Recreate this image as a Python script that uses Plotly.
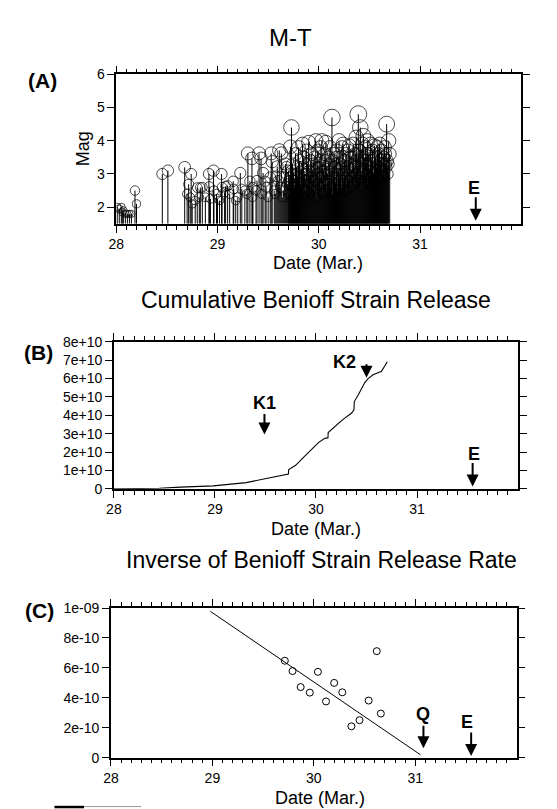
import plotly.graph_objects as go

W, H = 557, 809

# ---------------- Panel A : M-T data ----------------
event_day = [
    28.01, 28.03, 28.05, 28.06, 28.07, 28.09, 28.11, 28.13, 28.15, 28.185, 28.20,
    28.455, 28.51,
    28.676, 28.70, 28.715, 28.73, 28.74, 28.75, 28.78, 28.80, 28.82, 28.83, 28.85, 28.88,
    28.915, 28.92, 28.93, 28.96, 28.965, 28.99, 29.00, 29.02, 29.04, 29.045, 29.07, 29.08,
    29.10, 29.12, 29.155, 29.16, 29.18, 29.20, 29.225, 29.24, 29.27, 29.29, 29.30, 29.32,
    29.34, 29.345, 29.35, 29.38, 29.39, 29.41, 29.43, 29.44, 29.45, 29.47, 29.48, 29.50,
    29.52, 29.53, 29.54, 29.56, 29.57, 29.58, 29.59, 29.60, 29.61, 29.62, 29.63, 29.64,
    29.65, 29.66, 29.67, 29.68, 29.69,
    29.70, 29.71, 29.72, 29.73, 29.74, 29.75, 29.76, 29.77, 29.78, 29.79, 29.80, 29.81,
    29.82, 29.83, 29.84, 29.85, 29.86, 29.87, 29.88, 29.89, 29.90, 29.91, 29.92, 29.93,
    29.94, 29.95, 29.96, 29.97, 29.98, 29.99, 30.00, 30.01, 30.02, 30.03, 30.04, 30.05,
    30.06, 30.07, 30.08, 30.09, 30.10, 30.11, 30.12, 30.13, 30.14, 30.15, 30.16, 30.17,
    30.18, 30.19, 30.20, 30.21, 30.22, 30.23, 30.24, 30.25, 30.26, 30.27, 30.28, 30.29,
    30.30, 30.31, 30.32, 30.33, 30.34, 30.35, 30.36, 30.37, 30.38, 30.39, 30.40, 30.41,
    30.42, 30.43, 30.44, 30.45, 30.46, 30.47, 30.48, 30.49, 30.50, 30.51, 30.52, 30.53,
    30.54, 30.55, 30.56, 30.57, 30.58, 30.59, 30.60, 30.61, 30.62, 30.63, 30.64, 30.65,
    30.66, 30.67, 30.68, 30.69, 30.70,
    29.705, 29.715, 29.725, 29.735, 29.745, 29.755, 29.765, 29.775, 29.785, 29.795,
    29.805, 29.815, 29.825, 29.835, 29.845, 29.855, 29.865, 29.875, 29.885, 29.895,
    29.905, 29.915, 29.925, 29.935, 29.945, 29.955, 29.965, 29.975, 29.985, 29.995,
    30.005, 30.015, 30.025, 30.035, 30.045, 30.055, 30.065, 30.075, 30.085, 30.095,
    30.105, 30.115, 30.125, 30.135, 30.145, 30.155, 30.165, 30.175, 30.185, 30.195,
    30.205, 30.215, 30.225, 30.235, 30.245, 30.255, 30.265, 30.275, 30.285, 30.295,
    30.305, 30.315, 30.325, 30.335, 30.345, 30.355, 30.365, 30.375, 30.385, 30.395,
    30.405, 30.415, 30.425, 30.435, 30.445, 30.455, 30.465, 30.475, 30.485, 30.495,
    30.505, 30.515, 30.525, 30.535, 30.545, 30.555, 30.565, 30.575, 30.585, 30.595,
    30.605, 30.615, 30.625, 30.635, 30.645, 30.655, 30.665, 30.675, 30.685,
]
event_mag = [
    2.0, 1.95, 2.0, 1.85, 1.9, 1.8, 1.8, 1.8, 1.8, 2.5, 2.1,
    3.0, 3.1,
    3.2, 2.4, 2.69, 2.3, 3.0, 2.1, 2.2, 2.59, 2.3, 2.59, 2.6, 2.3,
    3.0, 2.62, 2.25, 3.1, 2.5, 2.4, 2.25, 2.2, 3.0, 2.6, 2.45, 2.63,
    2.65, 2.4, 2.78, 2.55, 2.2, 2.3, 3.03, 2.55, 2.5, 2.4, 3.62, 2.78,
    3.47, 2.3, 2.6, 2.5, 2.8, 3.62, 3.47, 2.4, 3.03, 2.78, 2.6, 2.3,
    2.9, 3.62, 3.37, 2.5, 2.4, 2.93, 3.22, 2.8, 3.71, 2.6, 3.62, 2.3,
    2.5, 2.9, 3.3, 3.2, 2.7,
    3.1, 2.8, 3.82, 4.4, 3.3, 3.0, 2.6, 3.6, 3.2, 2.9, 3.8, 3.4,
    2.7, 3.1, 3.9, 3.5, 3.0, 2.5, 3.7, 3.3, 3.95, 2.9, 3.4, 3.6,
    3.1, 2.8, 3.5, 4.0, 3.2, 3.7, 2.9, 3.4, 3.8, 4.0, 3.3, 3.0,
    3.6, 3.95, 3.2, 2.7, 3.5, 3.8, 3.1, 4.7, 3.4, 3.6, 2.9, 3.3,
    3.7, 3.0, 4.0, 3.5, 3.2, 3.8, 3.9, 2.8, 3.4, 3.6, 3.1, 3.7,
    3.85, 3.3, 2.9, 3.5, 3.9, 3.2, 3.6, 4.1, 3.4, 4.8, 3.7, 4.4,
    3.0, 3.9, 4.15, 3.5, 3.8, 3.3, 4.0, 3.6, 3.1, 3.9, 3.4, 3.7,
    3.0, 3.85, 3.5, 3.2, 3.8, 3.6, 3.9, 3.3, 3.7, 2.95, 3.5, 3.8,
    3.3, 4.5, 3.0, 4.0, 3.6,
    2.4, 2.9, 2.2, 3.1, 2.6, 2.3, 2.8, 2.5, 3.0, 2.4,
    2.7, 2.2, 3.2, 2.6, 2.9, 2.3, 2.8, 3.0, 2.5, 2.7,
    3.1, 2.4, 2.9, 2.6, 3.3, 2.5, 2.8, 2.3, 3.0, 2.7,
    3.2, 2.6, 2.9, 2.4, 3.1, 2.7, 3.4, 2.5, 3.0, 2.8,
    3.3, 2.6, 3.0, 2.4, 2.9, 3.2, 2.7, 3.5, 2.5, 3.1,
    2.8, 3.3, 2.6, 3.0, 2.7, 3.4, 2.9, 2.5, 3.2, 2.8,
    3.5, 2.6, 3.1, 2.9, 3.3, 2.7, 3.0, 3.6, 2.8, 3.2,
    2.9, 3.5, 2.6, 3.1, 3.4, 2.8, 3.0, 3.6, 2.7, 3.3,
    2.9, 3.2, 2.6, 3.4, 2.8, 3.1, 2.7, 3.5, 2.9, 3.2,
    2.8, 3.4, 3.1, 3.3, 2.9, 3.6, 3.2, 3.4, 3.3,
]
MAG_BASE = 1.5

# ---------------- Panel B : cumulative Benioff strain ----------------
cum_day = [28.0, 28.2, 28.45, 28.659, 28.984, 29.310, 29.506, 29.636, 29.701, 29.727,
           29.730, 29.799, 29.864, 29.962, 30.027, 30.092, 30.118, 30.121, 30.190,
           30.239, 30.288, 30.353, 30.376, 30.379, 30.418, 30.451, 30.483, 30.516,
           30.565, 30.614, 30.646, 30.679, 30.705]
cum_strain = [0.0, 0.01e10, 0.03e10, 0.087e10, 0.158e10, 0.336e10, 0.567e10, 0.692e10,
              0.798e10, 0.80e10, 1.047e10, 1.278e10, 1.634e10, 2.167e10, 2.523e10,
              2.754e10, 2.76e10, 3.056e10, 3.412e10, 3.643e10, 3.856e10, 4.123e10,
              4.30e10, 4.745e10, 5.10e10, 5.456e10, 5.776e10, 5.99e10, 6.203e10,
              6.309e10, 6.38e10, 6.665e10, 6.914e10]
b_tickvals = [0, 1e10, 2e10, 3e10, 4e10, 5e10, 6e10, 7e10, 8e10]
b_ticktext = ["0", "1e+10", "2e+10", "3e+10", "4e+10", "5e+10", "6e+10", "7e+10", "8e+10"]

# ---------------- Panel C : inverse rate ----------------
inv_day = [29.714, 29.79, 29.87, 29.96, 30.04, 30.12, 30.20, 30.28, 30.37, 30.45,
           30.54, 30.62, 30.66]
inv_rate = [6.48e-10, 5.79e-10, 4.72e-10, 4.35e-10, 5.74e-10, 3.76e-10, 5.0e-10,
            4.37e-10, 2.10e-10, 2.51e-10, 3.82e-10, 7.12e-10, 2.95e-10]
fit_day = [28.98, 31.05]
fit_rate = [9.78e-10, 0.2e-10]
c_tickvals = [0, 2e-10, 4e-10, 6e-10, 8e-10, 1e-9]
c_ticktext = ["0", "2e-10", "4e-10", "6e-10", "8e-10", "1e-09"]

# markers (day, value, label)
E_day = 31.55
K1_day, K1_val = 29.49, 2.95e10
K2_day, K2_val = 30.50, 6.04e10
Q_day = 31.08

FONT = "Liberation Sans, Arial, sans-serif"


def px(x):
    return x / W


def py(y):
    return 1 - y / H


fig = go.Figure()

# stems for panel A
sx, sy = [], []
for d, m in zip(event_day, event_mag):
    sx += [d, d, None]
    sy += [MAG_BASE, m, None]
fig.add_trace(go.Scatter(x=sx, y=sy, mode="lines", line=dict(color="black", width=1),
                         xaxis="x", yaxis="y", hoverinfo="skip", showlegend=False))
fig.add_trace(go.Scatter(x=event_day, y=event_mag, mode="markers",
                         marker=dict(symbol="circle-open", color="black",
                                     size=[3.2 * m + 1.5 for m in event_mag],
                                     line=dict(width=1, color="black")),
                         xaxis="x", yaxis="y", showlegend=False))

fig.add_trace(go.Scatter(x=cum_day, y=cum_strain, mode="lines",
                         line=dict(color="black", width=1.1),
                         xaxis="x2", yaxis="y2", showlegend=False))

fig.add_trace(go.Scatter(x=fit_day, y=fit_rate, mode="lines",
                         line=dict(color="black", width=1),
                         xaxis="x3", yaxis="y3", showlegend=False))
fig.add_trace(go.Scatter(x=inv_day, y=inv_rate, mode="markers",
                         marker=dict(symbol="circle-open", color="black", size=7,
                                     line=dict(width=1, color="black")),
                         xaxis="x3", yaxis="y3", showlegend=False))

axis_common = dict(showline=True, linecolor="black", linewidth=1.5, mirror="ticks",
                   ticks="outside", ticklen=7, tickwidth=1.2, tickcolor="black",
                   showgrid=False, zeroline=False,
                   tickfont=dict(family=FONT, size=14, color="black"))
xminor = dict(dtick=0.1, tick0=28, ticklen=4, tickwidth=1, tickcolor="black",
              ticks="outside", showgrid=False)


def xax(l, r, anchor):
    return dict(axis_common, domain=[px(l), px(r)], range=[28, 31.999], tick0=28,
                dtick=1, minor=xminor, anchor=anchor)


layout = dict(
    width=W, height=H, margin=dict(l=0, r=0, t=0, b=0),
    plot_bgcolor="white", paper_bgcolor="white", showlegend=False,
    xaxis=xax(101.7, 512.6, "y"),
    yaxis=dict(axis_common, domain=[py(212), py(59.5)], range=[1.5, 6], tick0=0,
               dtick=1, anchor="x"),
    xaxis2=xax(99.3, 509.3, "y2"),
    yaxis2=dict(axis_common, domain=[py(482.3), py(332.3)], range=[0, 8e10],
                tickmode="array", tickvals=b_tickvals, ticktext=b_ticktext, anchor="x2"),
    xaxis3=xax(96.3, 508, "y3"),
    yaxis3=dict(axis_common, domain=[py(756.7), py(604)], range=[0, 1e-9],
                tickmode="array", tickvals=c_tickvals, ticktext=c_ticktext, anchor="x3"),
)
fig.update_layout(**layout)

ann = []


def text_at(x, y, t, size, bold=False, angle=0):
    ann.append(dict(xref="paper", yref="paper", x=px(x), y=py(y), text=(f"<b>{t}</b>" if bold else t),
                    showarrow=False, xanchor="center", yanchor="middle", textangle=angle,
                    font=dict(family=FONT, size=size, color="black")))


def arrow(xr, yr, x, y, length):
    ann.append(dict(xref=xr, yref=yr, x=x, y=y, ax=0, ay=-length, text="",
                    showarrow=True, arrowhead=2, arrowsize=1.2, arrowwidth=2,
                    arrowcolor="black"))


text_at(279, 22, "M-T", 24)
text_at(27, 66, "(A)", 21, bold=True)
text_at(68, 136, "Mag", 18, angle=-90)
text_at(306, 252, "Date (Mar.)", 18)
text_at(304, 290, "Cumulative Benioff Strain Release", 23)
text_at(23, 343, "(B)", 21, bold=True)
text_at(304, 523, "Date (Mar.)", 18)
text_at(310, 555, "Inverse of Benioff Strain Release Rate", 23)
text_at(24, 607, "(C)", 21, bold=True)
text_at(308, 798, "Date (Mar.)", 18)

# markers
text_at(465, 175, "E", 18, bold=True)
arrow("x", "y", E_day, 1.59, 25)
text_at(252, 395, "K1", 18, bold=True)
arrow("x2", "y2", K1_day, K1_val, 22)
text_at(333, 353, "K2", 18, bold=True)
arrow("x2", "y2", K2_day, K2_val, 15)
text_at(465, 447, "E", 18, bold=True)
arrow("x2", "y2", E_day, 0.12e10, 25)
text_at(413, 712, "Q", 18, bold=True)
arrow("x3", "y3", Q_day, 0.64e-10, 24)
text_at(458, 720, "E", 18, bold=True)
arrow("x3", "y3", E_day, 0.11e-10, 25)

fig.update_layout(annotations=ann)

# small scale bar fragment at the bottom-left
fig.add_shape(type="line", xref="paper", yref="paper", x0=px(39), x1=px(69), y0=py(807),
              y1=py(807), line=dict(color="black", width=2.5))
fig.add_shape(type="line", xref="paper", yref="paper", x0=px(69), x1=px(127), y0=py(806.5),
              y1=py(806.5), line=dict(color="#999999", width=1))

fig.write_html("out.html")
